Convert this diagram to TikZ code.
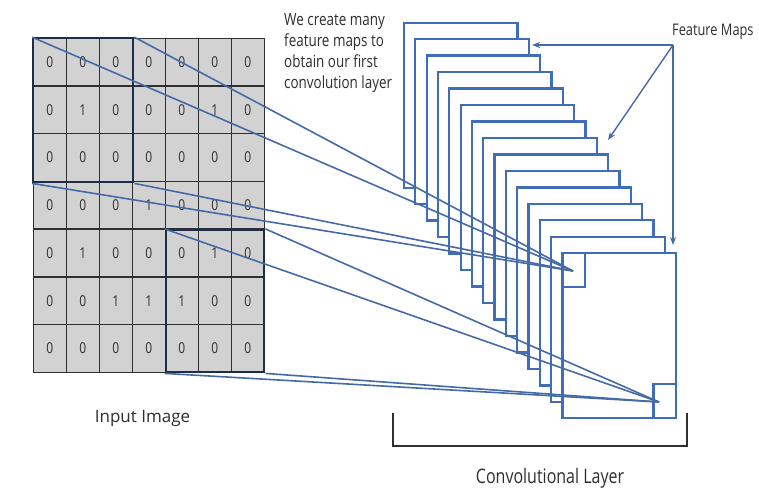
\documentclass[tikz,border=0pt]{standalone}
\usepackage{fontspec}
\setmainfont{Open Sans}[FakeStretch=0.8]
\newfontfamily\widefont{Open Sans}
\usetikzlibrary{arrows.meta}
\definecolor{gridfill}{HTML}{D2D2D2}
\definecolor{gridline}{HTML}{303030}
\definecolor{navy}{HTML}{1E2D4A}
\definecolor{mapblue}{HTML}{3F6DBA}
\definecolor{linkblue}{HTML}{456BA6}
\definecolor{txt}{HTML}{2E2E2E}
\tikzset{
  cell/.style={draw=gridline, fill=gridfill, line width=1.3pt, minimum width=33pt, minimum height=47.71pt, inner sep=0pt, text=txt, font=\fontsize{15}{17}\selectfont},
  hbox/.style={draw=navy, line width=2.2pt, inner sep=0pt},
  fmap/.style={draw=mapblue, fill=white, line width=2.3pt, minimum width=113.5pt, minimum height=165pt, inner sep=0pt},
  sqbox/.style={draw=mapblue, line width=2.3pt, inner sep=0pt},
  link/.style={draw=linkblue, line width=1.6pt},
  arr/.style={draw=linkblue, line width=1.4pt, -{Stealth[length=8pt,width=6pt]}},
  bracketline/.style={draw=gridline, line width=1.8pt},
  lbl/.style={text=txt, inner sep=0pt}
}
\begin{document}
\begin{tikzpicture}[x=1pt,y=-1pt]
\useasboundingbox (0,0) rectangle (759,499);
\fill[white] (0,0) rectangle (759,499);
% input grid
\foreach \row [count=\r] in {{0,0,0,0,0,0,0},{0,1,0,0,0,1,0},{0,0,0,0,0,0,0},{0,0,0,1,0,0,0},{0,1,0,0,0,1,0},{0,0,1,1,1,0,0},{0,0,0,0,0,0,0}}{
  \foreach \v [count=\c] in \row {
    \node[cell] (c-\r-\c) at ({33.3+33*(\c-0.5)}, {38.3+47.71*(\r-0.5)}) {\v};
  }
}
\node[hbox, minimum width=100pt, minimum height=144pt] (box1) at (83.3,110.3) {};
\node[hbox, minimum width=98.6pt, minimum height=142.3pt] (box2) at (215,301.15) {};
% feature maps
\foreach \k in {0,...,14}{
  \node[fmap] (fm\k) at ({404+11.33*\k+56.75}, {22.7+16.47*\k+82.5}) {};
}
\node[sqbox, minimum width=22.3pt, minimum height=34pt, anchor=north west] (sq1) at (fm14.north west) {};
\node[sqbox, minimum width=22.5pt, minimum height=34.5pt, anchor=south east] (sq2) at (fm14.south east) {};
\coordinate (t1) at (573,271);
\coordinate (t2) at (659,402);
% connections
\foreach \a in {north west, north east, south west, south east}{
  \draw[link] (box1.\a) -- (t1);
  \draw[link] (box2.\a) -- (t2);
}
% labels
\node[lbl, anchor=north west, align=left, font=\fontsize{16.8}{21}\selectfont] (note) at (284,13) {We create many\\feature maps to\\obtain our first\\convolution layer};
\node[lbl, anchor=west, font=\fontsize{16}{19}\selectfont] (fmlabel) at (672,31.7) {Feature Maps};
\coordinate (fmsrc) at (673,45);
\coordinate (a1) at (532,45);
\coordinate (a2) at (608,140);
\coordinate (a3) at (673,245);
\draw[arr] (fmsrc) -- (a1);
\draw[arr] (fmsrc) -- (a2);
\draw[arr] (fmsrc) -- (a3);
\node[lbl, font=\widefont\fontsize{17}{20}\selectfont] (inlabel) at (142.5,418) {Input Image};
\coordinate (br1) at (393.3,413);
\coordinate (br2) at (687.3,413);
\draw[bracketline] (br1) -- ++(0,32.7) -| (br2);
\node[lbl, font=\fontsize{20}{24}\selectfont] (convlabel) at (550,478) {Convolutional Layer};
\end{tikzpicture}
\end{document}
